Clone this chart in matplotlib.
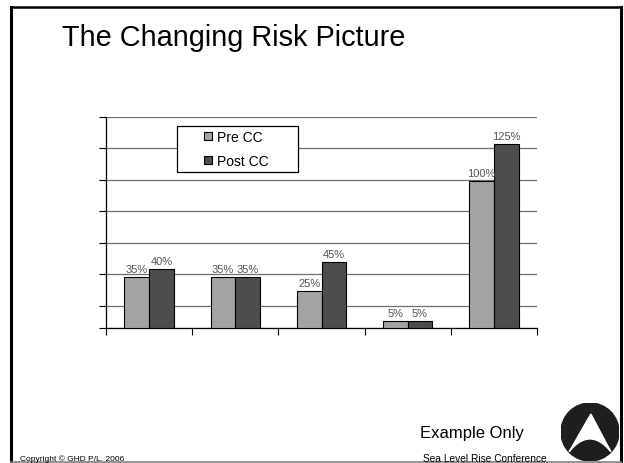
import matplotlib.pyplot as plt
import numpy as np
from matplotlib.lines import Line2D
from matplotlib.patches import Rectangle, Circle, Polygon

plt.rcParams['font.family'] = ['Liberation Sans', 'DejaVu Sans']

## Данные
series = ['Pre CC', 'Post CC']
pre_cc = [35, 35, 25, 5, 100]
post_cc = [40, 35, 45, 5, 125]
colors = ['#a3a3a3', '#4d4d4d']

W, H = 624, 464
fig = plt.figure(figsize=(W / 100, H / 100), dpi=100)

def px(x, y):
    # пиксели (сверху слева) -> координаты фигуры
    return x / W, 1 - y / H

## Рамка слайда
fig.add_artist(Line2D([11 / W, 11 / W], [1 - 8 / H, 1 - 463 / H], color='black', lw=2.2))
fig.add_artist(Line2D([11 / W, 621 / W], [1 - 8 / H, 1 - 8 / H], color='black', lw=1.8))
fig.add_artist(Line2D([621 / W, 621 / W], [1 - 8 / H, 1 - 463 / H], color='black', lw=2.2))
fig.add_artist(Line2D([11 / W, 621 / W], [1 - 463 / H, 1 - 463 / H], color='#808080', lw=1.2))

fig.text(*px(62, 38), 'The Changing Risk Picture', fontsize=20.8, va='center', ha='left')
fig.text(*px(420, 434), 'Example Only', fontsize=12, va='center', ha='left')
fig.text(*px(20, 459), 'Copyright © GHD P/L. 2006', fontsize=6, va='center', ha='left')
fig.text(*px(423, 459), 'Sea Level Rise Conference', fontsize=7.3, va='center', ha='left')

## Диаграмма
left, right, top, bottom = 106, 537, 118, 329
ax = fig.add_axes([left / W, 1 - bottom / H, (right - left) / W, (bottom - top) / H])

x = np.arange(len(pre_cc))
w = 0.286
b1 = ax.bar(x - w / 2, pre_cc, w, color=colors[0], edgecolor='black', lw=0.8, label=series[0], zorder=3)
b2 = ax.bar(x + w / 2, post_cc, w, color=colors[1], edgecolor='black', lw=0.8, label=series[1], zorder=3)
for bars, vals in ((b1, pre_cc), (b2, post_cc)):
    ax.bar_label(bars, labels=[f'{v}%' for v in vals], padding=2, fontsize=8, color='#555555')

ymax = 143.5
step = 21.4
ax.set_ylim(0, ymax)
ax.set_xlim(-0.5, len(pre_cc) - 0.5)
ax.set_yticks(list(ymax - step * np.arange(7)) + [0])
ax.set_yticklabels([])
ax.set_xticks(np.arange(len(pre_cc) + 1) - 0.5)
ax.set_xticklabels([])
ax.tick_params(axis='y', direction='out', length=5, width=0.8)
ax.tick_params(axis='x', direction='out', length=5, width=0.8)
ax.yaxis.grid(True, color='#6e6e6e', lw=0.9, zorder=0)
ax.set_axisbelow(True)
for s in ('top', 'right'):
    ax.spines[s].set_visible(False)
ax.spines['left'].set_linewidth(0.9)
ax.spines['bottom'].set_linewidth(0.9)

## Легенда: рамка шире, чем у matplotlib по умолчанию
lx0, ly0, lx1, ly1 = 176.7, 127.3, 298.3, 173.3
ax.add_patch(Rectangle(px(lx0, ly1), (lx1 - lx0) / W, (ly1 - ly0) / H, transform=fig.transFigure,
                       clip_on=False, facecolor='white', edgecolor='black', lw=0.9, zorder=5))
leg = ax.legend(loc='upper left', bbox_to_anchor=((204 - left) / (right - left), (bottom - 131) / (bottom - top)),
                frameon=False, fontsize=10, handlelength=0.55, handleheight=0.55,
                handletextpad=0.4, labelspacing=0.7, borderpad=0, borderaxespad=0)
leg.set_zorder(6)

## Логотип
lax = fig.add_axes([561 / W, 1 - 462 / H, 58 / W, 58 / H])
lax.set_xlim(-1, 1)
lax.set_ylim(-1, 1)
lax.set_aspect('equal')
lax.axis('off')
lax.add_patch(Circle((0, 0), 1, color='#1e1e1e'))
xs = np.linspace(0.72, -0.72, 30)
arc = np.column_stack([xs, -0.24 - 0.85 * xs ** 2])
pts = np.vstack([[[0.03, 0.62]], arc])
lax.add_patch(Polygon(pts, closed=True, color='white'))

plt.savefig('out.png', dpi=100)
